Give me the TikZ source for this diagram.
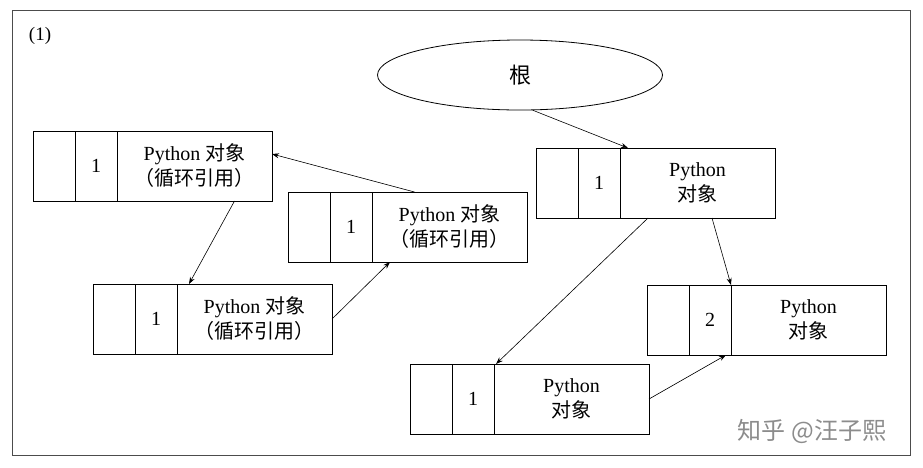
\documentclass[tikz,border=0pt]{standalone}
\usepackage{fontspec}
\setmainfont{Liberation Serif}
\newfontfamily\cjk{Noto Sans CJK SC}
\usetikzlibrary{positioning,shapes.geometric,arrows.meta}

\begin{document}
\begin{tikzpicture}[x=1pt, y=-1pt, line join=miter,
    cell/.style={draw, line width=0.8pt, minimum height=70pt, inner sep=0pt, outer sep=0pt,
      font=\fontsize{20}{25}\selectfont, align=center},
    cell_blank/.style={cell, minimum width=42pt},
    cell_count/.style={cell, minimum width=42pt},
    cell_text/.style={cell, minimum width=155pt},
    ref/.style={-{Stealth[length=7pt,width=5pt]}, line width=0.6pt},
  ]
  \useasboundingbox (0,0) rectangle (923,467);
  \draw[line width=0.8pt, black!70] (12,10) rectangle (910,455);
  \node[font=\fontsize{19}{22}\selectfont] (label) at (40,36) {(1)};

  % root of the reference graph
  \node[ellipse, draw, line width=0.8pt, minimum width=285pt, minimum height=70pt,
    font=\fontsize{22}{26}\selectfont\cjk] (root) at (520,75) {根};

  % boxes: name / left / top / count / kind
  \foreach \bname/\bx/\by/\bcount/\bkind in {
    A/33/131/1/0, B/288/192/1/0, C/93/284/1/0,
    D/536/148/1/1, E/647/285/2/1, F/410/364/1/1
  }{
    \node[cell_blank, anchor=north west] (\bname0) at (\bx,\by) {};
    \node[cell_count, right=0pt of \bname0] (\bname1) {\bcount};
    \ifnum\bkind=0
      \node[cell_text, right=0pt of \bname1] (\bname2) {Python {\cjk 对象}\\{\cjk （循环引用）}};
    \else
      \node[cell_text, right=0pt of \bname1] (\bname2) {Python\\{\cjk 对象}};
    \fi
  }

  \draw[ref] (root.-70) -- ([xshift=8pt]D2.north west);
  \draw[ref] ([xshift=-35pt]B2.north) -- ([yshift=12pt]A2.east);
  \draw[ref] ([xshift=40pt]A2.south) -- ([xshift=12pt]C2.north west);
  \draw[ref] (C2.east) -- ([xshift=18pt]B2.south west);
  \draw[ref] ([xshift=28pt]D2.south west) -- ([xshift=2pt]F2.north west);
  \draw[ref] ([xshift=92pt]D2.south west) -- (E2.north west);
  \draw[ref] (F2.east) -- ([xshift=-5pt]E2.south west);

  \node[font=\fontsize{24}{28}\selectfont\cjk, text=black!45] (mark) at (812,431) {知乎 @汪子熙};
\end{tikzpicture}
\end{document}
